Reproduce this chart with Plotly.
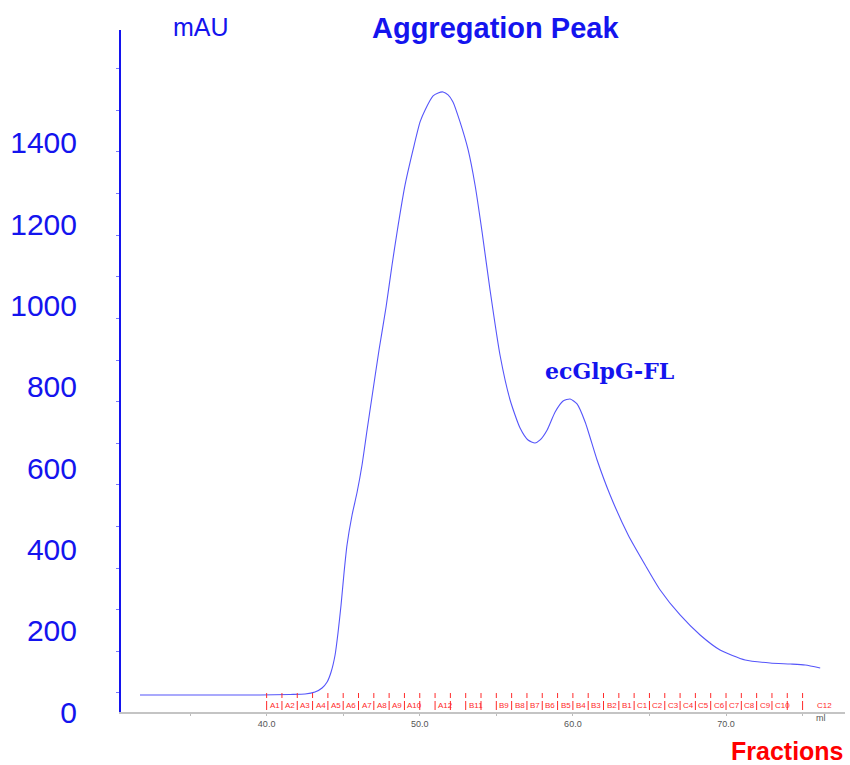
import plotly.graph_objects as go

# ---- data ----
volume_ml = [31.73, 35.65, 39.57, 41.53, 42.51, 43.16, 43.62, 43.95, 44.21, 44.47,
             44.66, 44.86, 45.06, 45.25, 45.58, 45.91, 46.23, 46.56, 46.88, 47.34,
             47.80, 48.19, 48.52, 49.04, 49.56, 50.02, 50.35, 50.87, 51.20, 51.52,
             51.85, 52.17, 52.63, 53.16, 53.61, 54.07, 54.59, 55.24, 55.90, 56.55,
             57.07, 57.53, 57.86, 58.32, 58.84, 59.36, 59.82, 60.27, 60.80, 61.58,
             62.43, 63.61, 64.72, 65.70, 67.00, 68.31, 69.61, 71.25, 72.88, 74.19,
             75.17, 76.15]
absorbance_mau = [41.8, 41.8, 41.8, 43.1, 44.3, 49.2, 59.1, 73.8, 98.4, 140.3,
                  194.4, 263.3, 344.5, 410.9, 484.7, 541.3, 607.8, 693.9, 775.1, 890.7,
                  996.5, 1099.9, 1181.1, 1296.7, 1382.9, 1451.8, 1481.3, 1515.7, 1523.1, 1525.6,
                  1518.2, 1501.0, 1451.8, 1382.9, 1296.7, 1181.1, 1038.4, 878.4, 767.7, 698.8,
                  669.3, 661.9, 669.3, 693.9, 738.2, 765.2, 770.2, 757.9, 713.6, 620.1,
                  534.0, 435.5, 361.7, 300.2, 238.7, 189.5, 152.6, 128.0, 120.6, 118.1,
                  115.6, 108.3]

y_tick_values = [0, 200, 400, 600, 800, 1000, 1200, 1400]
x_tick_values = [40.0, 50.0, 60.0, 70.0]
x_tick_labels = ["40.0", "50.0", "60.0", "70.0"]

fraction_start_ml = [40.0 + i for i in range(36)]
fraction_labels = ["A1", "A2", "A3", "A4", "A5", "A6", "A7", "A8", "A9", "A10", "", "A12",
                   "", "B11", "", "B9", "B8", "B7", "B6", "B5", "B4", "B3", "B2", "B1",
                   "C1", "C2", "C3", "C4", "C5", "C6", "C7", "C8", "C9", "C10", "", "C12"]

# ---- styles ----
BLUE = "#1414ee"
CURVE = "rgb(85,85,250)"
RED = "#ff2a2a"
MARK_SEGMENTS = [(46.7, 34.4), (27.1, 4.9)]   # mAU extents of the fraction marker dashes
LABEL_Y = 14.8

fig = go.Figure()

fig.add_trace(go.Scatter(
    x=volume_ml, y=absorbance_mau, mode="lines",
    line=dict(color=CURVE, width=1.1, shape="spline", smoothing=0.6),
    hoverinfo="skip", showlegend=False))

mx, my = [], []
for b in fraction_start_ml:
    for top, bot in MARK_SEGMENTS:
        mx += [b, b, None]
        my += [top, bot, None]
fig.add_trace(go.Scatter(x=mx, y=my, mode="lines",
                         line=dict(color=RED, width=1), hoverinfo="skip", showlegend=False))

annotations = []
for b, lab in zip(fraction_start_ml, fraction_labels):
    if not lab:
        continue
    shift = 1 if lab != "C12" else 12
    annotations.append(dict(x=b, y=LABEL_Y, xref="x", yref="y", text=lab, showarrow=False,
                            xanchor="left", yanchor="middle", xshift=shift,
                            font=dict(family="Liberation Sans", size=8, color=RED)))

annotations += [
    dict(x=0.5166, y=1.003, xref="paper", yref="paper", text="<b>Aggregation Peak</b>",
         showarrow=False, xanchor="center", yanchor="middle",
         font=dict(family="Liberation Sans", size=29, color=BLUE)),
    dict(x=0.1105, y=1.0044, xref="paper", yref="paper", text="mAU",
         showarrow=False, xanchor="center", yanchor="middle",
         font=dict(family="Liberation Sans", size=25, color=BLUE)),
    dict(x=62.36, y=839, xref="x", yref="y", text="<b>ecGlpG-FL</b>",
         showarrow=False, xanchor="center", yanchor="middle",
         font=dict(family="DejaVu Serif", size=22, color=BLUE)),
    dict(x=0.92, y=-0.0572, xref="paper", yref="paper", text="<b>Fractions</b>",
         showarrow=False, xanchor="center", yanchor="middle",
         font=dict(family="Liberation Sans", size=25, color="#ff0000")),
    dict(x=76.2, y=-0.0085, xref="x", yref="paper", text="ml",
         showarrow=False, xanchor="center", yanchor="middle",
         font=dict(family="Liberation Sans", size=9, color="#555555")),
]

fig.update_layout(
    width=850, height=765,
    margin=dict(l=121, r=5, t=30, b=53),
    paper_bgcolor="white", plot_bgcolor="white",
    annotations=annotations,
    xaxis=dict(range=[30.49, 77.77], showgrid=False, zeroline=False,
               showline=True, linecolor="#c4c4c4", linewidth=2,
               tickmode="array", tickvals=x_tick_values, ticktext=x_tick_labels,
               ticks="outside", ticklen=2, tickcolor="#bbbbbb",
               tickfont=dict(family="Liberation Sans", size=9, color="#555555"),
               minor=dict(tick0=35.0, dtick=10.0, ticks="outside", ticklen=2,
                          tickcolor="#bbbbbb")),
    yaxis=dict(range=[0, 1678], showgrid=False, zeroline=False,
               showline=True, linecolor=BLUE, linewidth=2,
               tickmode="array", tickvals=y_tick_values, ticks="",
               ticklabelstandoff=36,
               tickfont=dict(family="Liberation Sans", size=30, color=BLUE),
               minor=dict(tick0=46.8, dtick=102.4, ticks="outside", ticklen=3,
                          tickcolor="#7777ff")),
)

fig.write_html("out.html")
